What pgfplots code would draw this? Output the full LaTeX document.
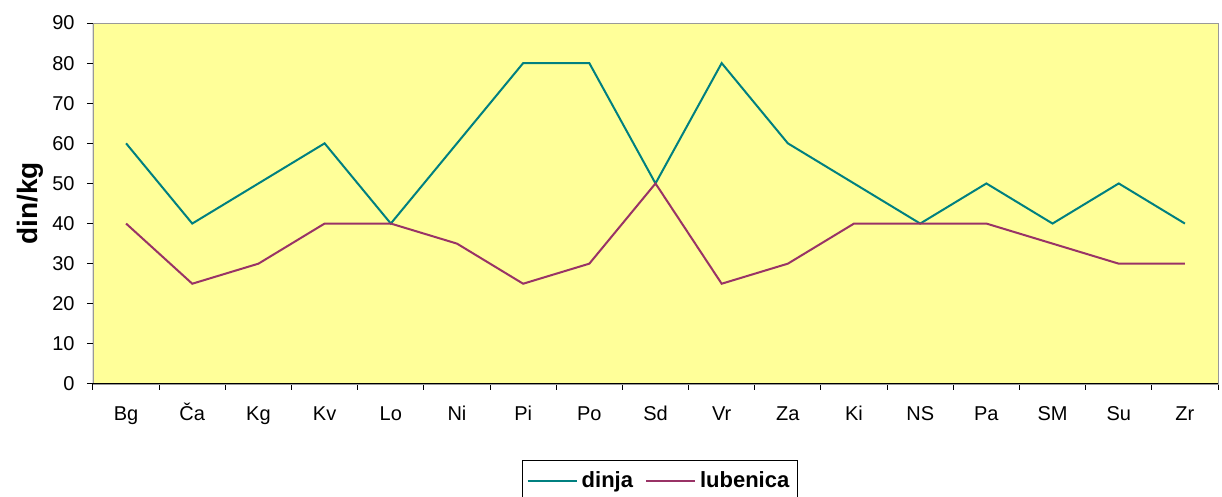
\documentclass[border=0pt]{standalone}
\usepackage{fontspec}
\setmainfont{Liberation Sans}
\usepackage{pgfplots}
\pgfplotsset{compat=1.18}
\definecolor{bgyel}{HTML}{FFFF99}
\definecolor{dinjac}{HTML}{008080}
\definecolor{lubc}{HTML}{993366}
\begin{document}
\begin{tikzpicture}
\begin{axis}[
  scale only axis,
  width=562.5pt, height=180.5pt,
  xmin=-0.5, xmax=16.5, ymin=0, ymax=90,
  axis background/.style={fill=bgyel},
  axis line style={draw=gray!80},
  xtick={0,...,16},
  xticklabels={Bg,Ča,Kg,Kv,Lo,Ni,Pi,Po,Sd,Vr,Za,Ki,NS,Pa,SM,Su,Zr},
  major x tick style={draw=none},
  minor xtick={-0.5,0.5,...,16.5},
  minor tick length=3pt,
  ytick={0,10,...,90},
  major tick length=3pt,
  tick align=outside,
  tick style={black, line width=0.5pt},
  xtick pos=bottom, ytick pos=left,
  /pgf/number format/assume math mode=true,
  tick label style={font=\fontsize{10}{12}\selectfont},
  xticklabel style={anchor=base, yshift=-15.5pt},
  yticklabel style={xshift=-2.7pt},
  ylabel={\textbf{din/kg}},
  ylabel style={at={(axis description cs:-0.056,0.5)}, anchor=center, font=\fontsize{14}{16}\selectfont},
  legend style={at={(axis description cs:0.504,-0.2105)}, anchor=north, draw=black, line width=0.5pt,
     font=\bfseries\fontsize{11}{13}\selectfont, inner xsep=2pt, inner ysep=3.5pt,
     /tikz/every even column/.append style={column sep=4pt}},
  legend columns=-1,
  legend cell align=left,
  legend image code/.code={\draw[#1, line width=1pt] (0pt,0pt) -- (24.5pt,0pt);},
]
\coordinate (o) at (rel axis cs:0,0);
\addplot[color=dinjac, line width=1pt] coordinates {
(0,60) (1,40) (2,50) (3,60) (4,40) (5,60) (6,80) (7,80) (8,50) (9,80) (10,60) (11,50) (12,40) (13,50) (14,40) (15,50) (16,40)};
\addlegendentry{dinja}
\addplot[color=lubc, line width=1pt] coordinates {
(0,40) (1,25) (2,30) (3,40) (4,40) (5,35) (6,25) (7,30) (8,50) (9,25) (10,30) (11,40) (12,40) (13,40) (14,35) (15,30) (16,30)};
\addlegendentry{lubenica}
\draw[black, line width=0.5pt] (rel axis cs:0,1) -- (rel axis cs:0,0) -- (rel axis cs:1,0);
\end{axis}
\pgfresetboundingbox
\path ([xshift=-46.5pt,yshift=-56.5pt]o) rectangle ([xshift=564.5pt,yshift=192pt]o);
\end{tikzpicture}
\end{document}
